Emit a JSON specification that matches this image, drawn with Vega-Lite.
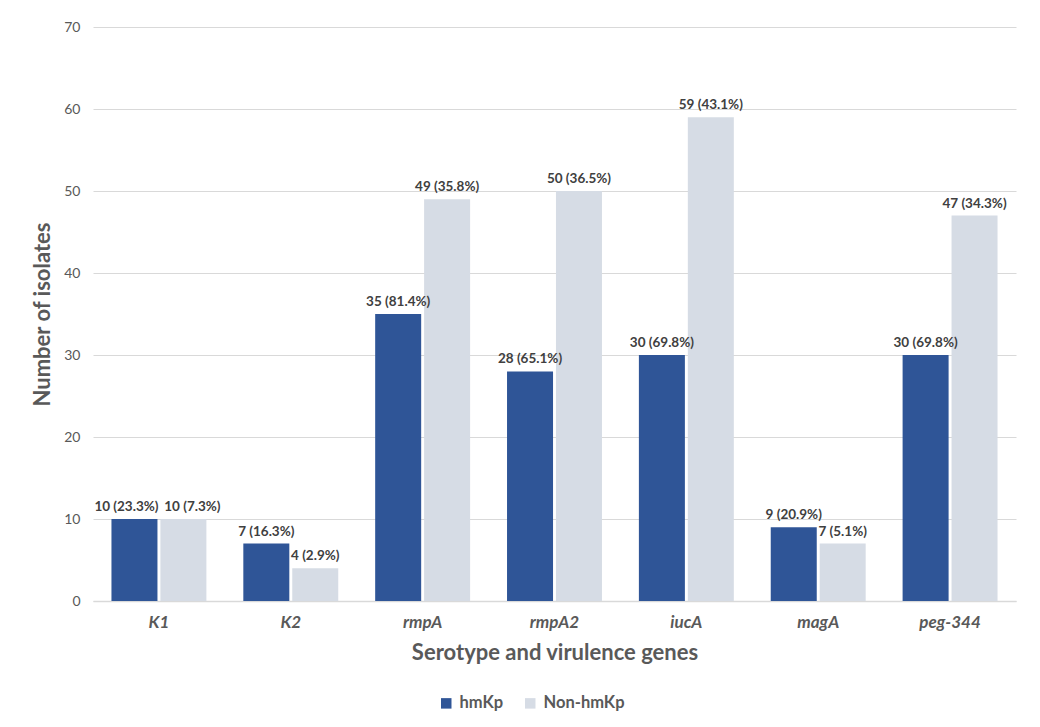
{
  "$schema": "https://vega.github.io/schema/vega-lite/v6.json",
  "width": 923,
  "height": 574,
  "autosize": {"type": "none"},
  "padding": {"left": 93, "top": 27, "right": 24, "bottom": 126},
  "background": "#ffffff",
  "config": {
    "view": {"stroke": null},
    "font": "Lato"
  },
  "data": {
    "values": [
      {"gene": "K1", "group": "hmKp", "n": 10, "label": "10 (23.3%)"},
      {"gene": "K1", "group": "Non-hmKp", "n": 10, "label": "10 (7.3%)"},
      {"gene": "K2", "group": "hmKp", "n": 7, "label": "7 (16.3%)"},
      {"gene": "K2", "group": "Non-hmKp", "n": 4, "label": "4 (2.9%)"},
      {"gene": "rmpA", "group": "hmKp", "n": 35, "label": "35 (81.4%)"},
      {"gene": "rmpA", "group": "Non-hmKp", "n": 49, "label": "49 (35.8%)"},
      {"gene": "rmpA2", "group": "hmKp", "n": 28, "label": "28 (65.1%)"},
      {"gene": "rmpA2", "group": "Non-hmKp", "n": 50, "label": "50 (36.5%)"},
      {"gene": "iucA", "group": "hmKp", "n": 30, "label": "30 (69.8%)"},
      {"gene": "iucA", "group": "Non-hmKp", "n": 59, "label": "59 (43.1%)"},
      {"gene": "magA", "group": "hmKp", "n": 9, "label": "9 (20.9%)"},
      {"gene": "magA", "group": "Non-hmKp", "n": 7, "label": "7 (5.1%)"},
      {"gene": "peg-344", "group": "hmKp", "n": 30, "label": "30 (69.8%)"},
      {"gene": "peg-344", "group": "Non-hmKp", "n": 47, "label": "47 (34.3%)"}
    ]
  },
  "encoding": {
    "x": {
      "field": "gene",
      "type": "nominal",
      "sort": null,
      "scale": {"paddingInner": 0.28, "paddingOuter": 0.14},
      "axis": {
        "title": "Serotype and virulence genes",
        "labelAngle": 0,
        "labelFont": "Lato",
        "labelFontSize": 17,
        "labelFontStyle": "italic",
        "labelFontWeight": "bold",
        "labelColor": "#595959",
        "labelPadding": 13,
        "ticks": false,
        "domainColor": "#d9d9d9",
        "domainWidth": 1.5,
        "titleFont": "Lato",
        "titleFontSize": 22,
        "titleFontWeight": "bold",
        "titleColor": "#595959",
        "titlePadding": 12
      }
    },
    "xOffset": {
      "field": "group",
      "type": "nominal",
      "sort": ["hmKp", "Non-hmKp"],
      "scale": {"paddingInner": 0.06}
    },
    "y": {
      "field": "n",
      "type": "quantitative",
      "scale": {"domain": [0, 70]},
      "axis": {
        "title": "Number of isolates",
        "values": [0, 10, 20, 30, 40, 50, 60, 70],
        "domain": false,
        "ticks": false,
        "gridColor": "#d9d9d9",
        "gridWidth": 1.2,
        "labelFont": "Lato",
        "labelFontSize": 14,
        "labelColor": "#595959",
        "labelPadding": 13,
        "titleFont": "Lato",
        "titleFontSize": 22,
        "titleFontWeight": "bold",
        "titleColor": "#595959",
        "titlePadding": 9
      }
    }
  },
  "layer": [
    {
      "mark": {"type": "bar"},
      "encoding": {
        "color": {
          "field": "group",
          "type": "nominal",
          "sort": ["hmKp", "Non-hmKp"],
          "scale": {"domain": ["hmKp", "Non-hmKp"], "range": ["#2F5597", "#D6DCE5"]},
          "legend": {
            "title": null,
            "orient": "none",
            "legendX": 345,
            "legendY": 668,
            "direction": "horizontal",
            "symbolType": "square",
            "symbolSize": 110,
            "symbolStrokeWidth": 0,
            "labelFont": "Lato",
            "labelFontSize": 16.5,
            "labelFontWeight": "bold",
            "labelColor": "#595959",
            "labelOffset": 5,
            "columnPadding": 18
          }
        }
      }
    },
    {
      "transform": [{"filter": "datum.gene != 'K1'"}],
      "mark": {"type": "text", "baseline": "bottom", "dy": -5, "fontSize": 13.5, "fontWeight": "bold", "color": "#404040", "font": "Lato"},
      "encoding": {"text": {"field": "label"}}
    },
    {
      "transform": [{"filter": "datum.gene == 'K1' && datum.group == 'hmKp'"}],
      "mark": {"type": "text", "baseline": "bottom", "dy": -5, "dx": -8, "fontSize": 13.5, "fontWeight": "bold", "color": "#404040", "font": "Lato"},
      "encoding": {"text": {"field": "label"}}
    },
    {
      "transform": [{"filter": "datum.gene == 'K1' && datum.group == 'Non-hmKp'"}],
      "mark": {"type": "text", "baseline": "bottom", "dy": -5, "dx": 9, "fontSize": 13.5, "fontWeight": "bold", "color": "#404040", "font": "Lato"},
      "encoding": {"text": {"field": "label"}}
    }
  ]
}
